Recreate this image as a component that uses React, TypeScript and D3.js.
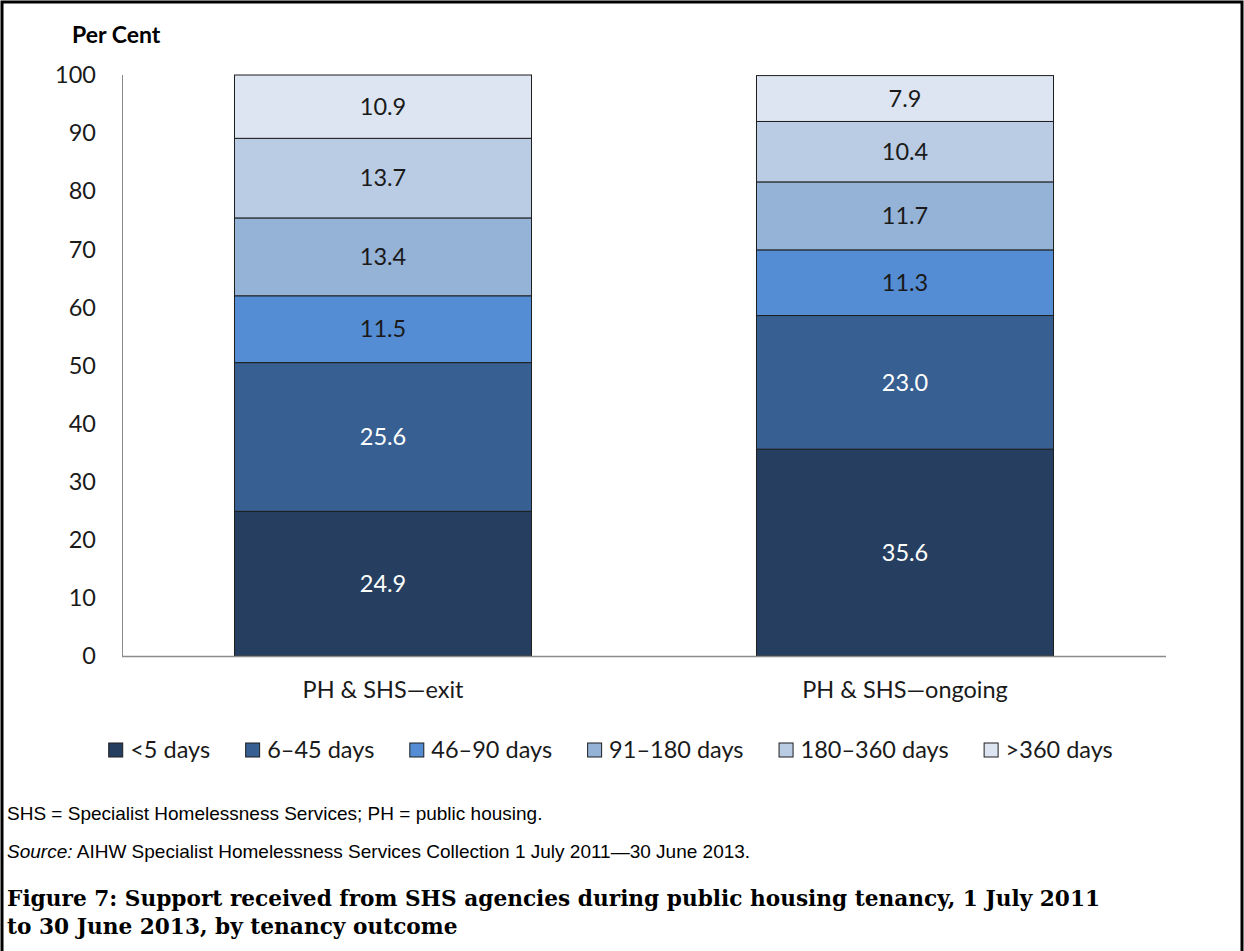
import React, { useEffect, useRef } from "react";
import * as d3 from "d3";

const categories = ["PH & SHS\u2014exit", "PH & SHS\u2014ongoing"];
const seriesNames = ["<5 days", "6\u201345 days", "46\u201390 days", "91\u2013180 days", "180\u2013360 days", ">360 days"];
const exitValues = [24.9, 25.6, 11.5, 13.4, 13.7, 10.9];
const ongoingValues = [35.6, 23.0, 11.3, 11.7, 10.4, 7.9];
const seriesColors = ["#263f60", "#375f91", "#548dd4", "#95b2d7", "#b9cce4", "#dce5f1"];
const labelColors = ["#ffffff", "#ffffff", "#1a1a1a", "#1a1a1a", "#1a1a1a", "#1a1a1a"];
const yTicks = [0, 10, 20, 30, 40, 50, 60, 70, 80, 90, 100];
const noteText = "SHS = Specialist Homelessness Services; PH = public housing.";
const sourceLabel = "Source:";
const sourceText = " AIHW Specialist Homelessness Services Collection 1 July 2011\u201430 June 2013.";
const titleLines = [
  "Figure 7: Support received from SHS agencies during public housing tenancy, 1 July 2011",
  "to 30 June 2013, by tenancy outcome",
];

const W = 1244;
const H = 951;
const FONT = "Lato, 'Open Sans', sans-serif";
const FS = 23.5;

export default function App() {
  const ref = useRef<SVGSVGElement>(null);

  useEffect(() => {
    const svg = d3.select(ref.current);
    svg.selectAll("*").remove();

    const left = 122, right = 1166, top = 75, bottom = 656;
    const x = d3.scaleBand<string>().domain(categories).range([left, right]).paddingInner(0.431).paddingOuter(0.2155);
    const y = d3.scaleLinear().domain([0, 100]).range([bottom, top]);

    const rows = categories.map((c, i) => {
      const vals = i === 0 ? exitValues : ongoingValues;
      const o: any = { cat: c };
      seriesNames.forEach((s, j) => (o[s] = vals[j]));
      return o;
    });
    const stacked = d3.stack<any>().keys(seriesNames)(rows);

    // frame
    svg.append("rect").attr("x", 2).attr("y", 2).attr("width", W - 4).attr("height", H + 20)
      .attr("fill", "none").attr("stroke", "#000").attr("stroke-width", 3);

    // y axis label
    svg.append("text").attr("x", 72).attr("y", 43).attr("font-family", FONT).attr("font-weight", "bold")
      .attr("font-size", 23).attr("fill", "#000").text("Per Cent");

    // y axis
    svg.append("line").attr("x1", left + 0.5).attr("x2", left + 0.5).attr("y1", top).attr("y2", bottom)
      .attr("stroke", "#8c8c8c").attr("stroke-width", 1);
    svg.append("g").selectAll("text").data(yTicks).join("text")
      .attr("x", 96).attr("y", (d) => y(d)).attr("dy", "0.35em").attr("text-anchor", "end")
      .attr("font-family", FONT).attr("font-size", FS).attr("fill", "#1a1a1a").text((d) => String(d));

    // bars
    stacked.forEach((layer, j) => {
      const g = svg.append("g");
      g.selectAll("rect").data(layer).join("rect")
        .attr("x", (d: any) => x(d.data.cat)!)
        .attr("width", x.bandwidth())
        .attr("y", (d: any) => y(d[1]))
        .attr("height", (d: any) => y(d[0]) - y(d[1]))
        .attr("fill", seriesColors[j])
        .attr("stroke", "#1e1e1e").attr("stroke-width", 1);
      g.selectAll("text").data(layer).join("text")
        .attr("x", (d: any) => x(d.data.cat)! + x.bandwidth() / 2)
        .attr("y", (d: any) => (y(d[0]) + y(d[1])) / 2)
        .attr("dy", "0.35em").attr("text-anchor", "middle")
        .attr("font-family", FONT).attr("font-size", FS).attr("fill", labelColors[j])
        .text((d: any) => (d[1] - d[0]).toFixed(1));
    });

    // baseline
    svg.append("line").attr("x1", left).attr("x2", right).attr("y1", bottom + 0.5).attr("y2", bottom + 0.5)
      .attr("stroke", "#8c8c8c").attr("stroke-width", 1.5);

    // category labels
    svg.append("g").selectAll("text").data(categories).join("text")
      .attr("x", (d) => x(d)! + x.bandwidth() / 2).attr("y", 698).attr("text-anchor", "middle")
      .attr("font-family", FONT).attr("font-size", FS).attr("fill", "#1a1a1a").text((d) => d);

    // legend (measured then centred)
    const lg = svg.append("g");
    let lx = 0;
    const ly = 750;
    seriesNames.forEach((s, j) => {
      lg.append("rect").attr("x", lx + 0.5).attr("y", ly - 7).attr("width", 14).attr("height", 14)
        .attr("fill", seriesColors[j]).attr("stroke", "#1e1e1e").attr("stroke-width", 1);
      const t = lg.append("text").attr("x", lx + 22).attr("y", ly).attr("dy", "0.35em")
        .attr("font-family", FONT).attr("font-size", FS).attr("fill", "#1a1a1a").text(s);
      const w = (t.node() as SVGTextElement).getComputedTextLength();
      lx += 22 + w + (j < seriesNames.length - 1 ? 35 : 0);
    });
    lg.attr("transform", `translate(${610.5 - lx / 2},0)`);

    // notes
    const SANS = "'Liberation Sans', Arial, sans-serif";
    svg.append("text").attr("x", 7).attr("y", 820).attr("font-family", SANS)
      .attr("font-size", 19).attr("fill", "#000").text(noteText);
    const src = svg.append("text").attr("x", 7).attr("y", 858).attr("font-family", SANS)
      .attr("font-size", 19).attr("fill", "#000");
    src.append("tspan").attr("font-style", "italic").text(sourceLabel);
    src.append("tspan").text(sourceText);

    const tt = svg.append("g").selectAll("text").data(titleLines).join("text")
      .attr("x", 7).attr("y", (d, i) => 906 + i * 28)
      .attr("font-family", "'DejaVu Serif', serif").attr("font-weight", "bold")
      .attr("font-size", 20).attr("fill", "#000").text((d) => d);
    // scale title so the first line spans the same width as in the figure
    const first = tt.nodes()[0] as SVGTextElement;
    const w0 = first.getComputedTextLength();
    const fs = 20 * 1094 / w0;
    tt.attr("font-size", fs);
  }, []);

  return (
    <svg ref={ref} width={W} height={H} style={{ position: "absolute", left: 0, top: 0, background: "#fff" }} />
  );
}
